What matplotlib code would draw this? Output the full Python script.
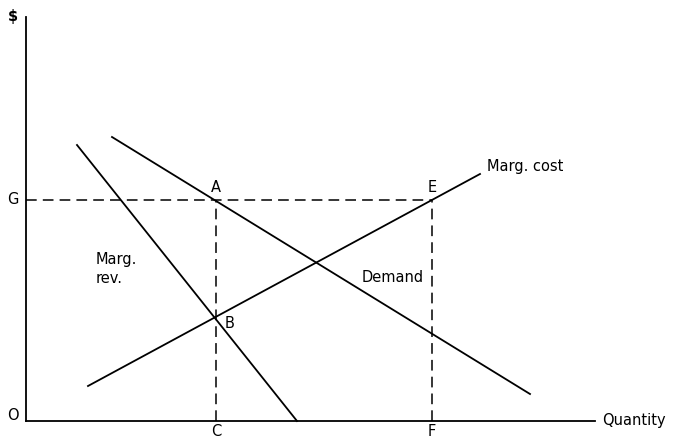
import matplotlib
matplotlib.use("Agg")
import matplotlib.pyplot as plt

# chart values in quantity / price units (origin O at 0,0)
mr_q = [5.1, 27.1]          # marginal revenue
mr_p = [27.6, 0.0]
dem_q = [8.6, 50.4]         # demand
dem_p = [28.4, 2.7]
mc_q = [6.2, 45.4]          # marginal cost
mc_p = [3.5, 24.7]
q_c = 19.0                  # C
q_f = 40.6                  # F
p_g = 22.1                  # G
p_b = 10.4                  # B
y_top = 40.4
x_end = 56.9

fig = plt.figure(figsize=(6.74, 4.38), dpi=100)
ax = fig.add_axes([0, 0, 1, 1])
ax.set_xlim(-2.6, 64.8)
ax.set_ylim(-1.7, 42.1)
ax.axis("off")

k = "black"
# axes
ax.plot([0, 0], [0, y_top], color=k, lw=1.3)
ax.plot([0, x_end], [0, 0], color=k, lw=1.3)

# curves
ax.plot(mr_q, mr_p, color=k, lw=1.3)
ax.plot(dem_q, dem_p, color=k, lw=1.3)
ax.plot(mc_q, mc_p, color=k, lw=1.3)

# dashed guides
dash = dict(color=k, lw=1.1, dashes=(7, 4))
ax.plot([0, q_f], [p_g, p_g], **dash)
ax.plot([q_c, q_c], [0, p_g], **dash)
ax.plot([q_f, q_f], [0, p_g], **dash)

fs = 10.5
ax.text(-1.3, y_top, "$", fontsize=fs, fontweight="bold", ha="center", va="center")
ax.text(-1.3, 0.6, "O", fontsize=fs, ha="center", va="center")
ax.text(-1.3, p_g, "G", fontsize=fs, ha="center", va="center")
ax.text(q_c, -1.1, "C", fontsize=fs, ha="center", va="center")
ax.text(q_f, -1.1, "F", fontsize=fs, ha="center", va="center")
ax.text(q_c, p_g + 1.2, "A", fontsize=fs, ha="center", va="center")
ax.text(q_f, p_g + 1.2, "E", fontsize=fs, ha="center", va="center")
ax.text(q_c + 0.9, p_b - 0.6, "B", fontsize=fs, ha="left", va="center")
ax.text(x_end + 0.7, 0.0, "Quantity", fontsize=fs, ha="left", va="center")
ax.text(mc_q[1] + 0.7, mc_p[1] + 0.8, "Marg. cost", fontsize=fs, ha="left", va="center")
ax.text(7.0, 15.2, "Marg.\nrev.", fontsize=fs, ha="left", va="center", linespacing=1.3)
ax.text(39.8, 14.3, "Demand", fontsize=fs, ha="right", va="center")

fig.savefig("out.png", dpi=100)
